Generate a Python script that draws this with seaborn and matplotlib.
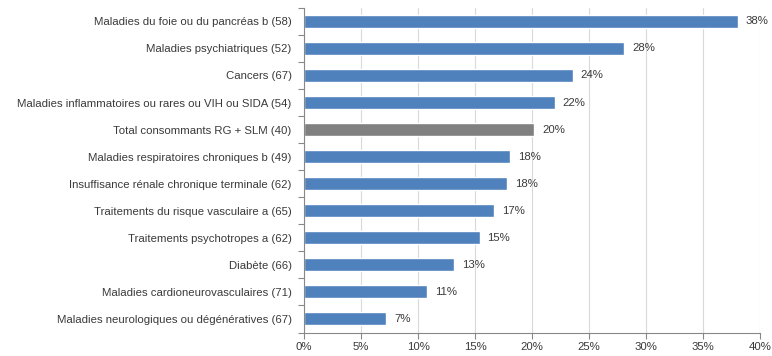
import numpy as np
import pandas as pd
import matplotlib
matplotlib.use('Agg')
import matplotlib.pyplot as plt
import seaborn as sns

# Data
CATEGORIES = [
    'Maladies du foie ou du pancréas b (58)',
    'Maladies psychiatriques (52)',
    'Cancers (67)',
    'Maladies inflammatoires ou rares ou VIH ou SIDA (54)',
    'Total consommants RG + SLM (40)',
    'Maladies respiratoires chroniques b (49)',
    'Insuffisance rénale chronique terminale (62)',
    'Traitements du risque vasculaire a (65)',
    'Traitements psychotropes a (62)',
    'Diabète (66)',
    'Maladies cardioneurovasculaires (71)',
    'Maladies neurologiques ou dégénératives (67)',
]
VALUES = [38.1, 28.1, 23.6, 22.0, 20.2, 18.1, 17.8, 16.7, 15.4, 13.2, 10.8, 7.2]
LABELS = ['38%', '28%', '24%', '22%', '20%', '18%', '18%', '17%', '15%', '13%', '11%', '7%']
GROUP = ['patho', 'patho', 'patho', 'patho', 'total', 'patho',
         'patho', 'patho', 'patho', 'patho', 'patho', 'patho']
X_TICKS = [0, 5, 10, 15, 20, 25, 30, 35, 40]

BLUE = '#4F81BD'
GREY = '#808080'
TXT = '#3A3A3A'

df = pd.DataFrame({'cat': CATEGORIES, 'val': VALUES, 'grp': GROUP})

sns.set_style('white')
plt.rcParams['font.family'] = ['Liberation Sans', 'DejaVu Sans']

fig = plt.figure(figsize=(7.72, 3.56), dpi=100)
ax = fig.add_axes([0.394, 0.066, 0.59, 0.912])

sns.barplot(data=df, x='val', y='cat', hue='grp', order=CATEGORIES,
            palette={'patho': BLUE, 'total': GREY}, dodge=False,
            width=0.48, legend=False, ax=ax, saturation=1)

ax.set_xlim(0, 40)
ax.set_ylim(len(CATEGORIES) - 0.5, -0.5)
ax.set_xticks(X_TICKS)
ax.set_xticklabels([f'{t}%' for t in X_TICKS], fontsize=8.2, color=TXT)
ax.set_yticklabels(CATEGORIES, fontsize=8.2, color=TXT)
ax.set_xlabel('')
ax.set_ylabel('')

ax.xaxis.grid(True, color='#D9D9D9', linewidth=0.8)
ax.set_axisbelow(True)

for s in ['top', 'right']:
    ax.spines[s].set_visible(False)
for s in ['left', 'bottom']:
    ax.spines[s].set_color('#888888')
    ax.spines[s].set_linewidth(0.8)

# y ticks between categories as minor ticks
ax.tick_params(axis='y', which='major', left=False, length=0, pad=9)
ax.set_yticks(np.arange(-0.5, len(CATEGORIES)), minor=True)
ax.tick_params(axis='y', which='minor', left=True, length=4, width=0.8,
               color='#888888', direction='out')
ax.tick_params(axis='x', which='major', bottom=True, length=4, width=0.8,
               color='#888888', direction='out', pad=3)

for i, (v, lab) in enumerate(zip(VALUES, LABELS)):
    ax.text(v + 0.7, i, lab, va='center', ha='left', fontsize=8.2, color=TXT)

fig.savefig('out.png', dpi=100, facecolor='white')
